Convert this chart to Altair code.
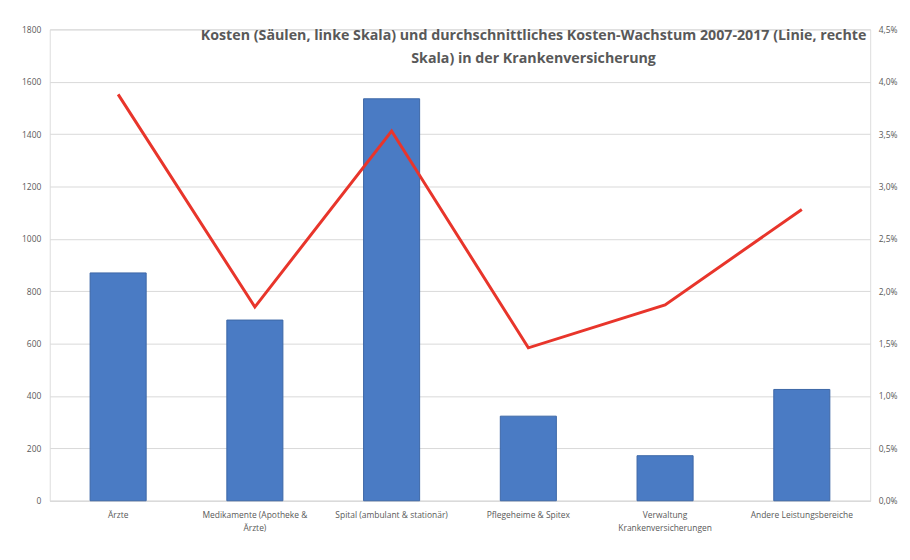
import altair as alt
import pandas as pd

categories = [
    "Ärzte",
    "Medikamente (Apotheke &|Ärzte)",
    "Spital (ambulant & stationär)",
    "Pflegeheime & Spitex",
    "Verwaltung|Krankenversicherungen",
    "Andere Leistungsbereiche",
]
kosten = [870, 690, 1535, 323, 172, 425]
wachstum = [0.0388, 0.0185, 0.0353, 0.0146, 0.0187, 0.0278]

title_lines = [
    "Kosten (Säulen, linke Skala) und durchschnittliches Kosten-Wachstum 2007-2017 (Linie, rechte",
    "Skala) in der Krankenversicherung",
]

df = pd.DataFrame({"Kategorie": categories, "Kosten": kosten, "Wachstum": wachstum})

FONT = "Open Sans"
GREY = "#595959"

x = alt.X(
    "Kategorie:N",
    sort=None,
    title=None,
    scale=alt.Scale(paddingInner=0.59, paddingOuter=0.295),
    axis=alt.Axis(
        labelAngle=0,
        labelExpr="split(datum.label, '|')",
        labelFontSize=8.5,
        labelColor=GREY,
        labelFont=FONT,
        labelPadding=10,
        labelLineHeight=13,
        ticks=False,
        domainColor="#d9d9d9",
        labelLimit=200,
    ),
)

bars = alt.Chart(df).mark_bar(color="#4a7bc4", stroke="#3c67a6", strokeWidth=1).encode(
    x=x,
    y=alt.Y(
        "Kosten:Q",
        title=None,
        scale=alt.Scale(domain=[0, 1800]),
        axis=alt.Axis(
            values=list(range(0, 1801, 200)),
            format="d",
            labelFontSize=8.5,
            labelColor=GREY,
            labelFont=FONT,
            labelPadding=9,
            ticks=False,
            domain=False,
            gridColor="#d9d9d9",
        ),
    ),
)

line = alt.Chart(df).mark_line(color="#e8352b", strokeWidth=3).encode(
    x=x,
    y=alt.Y(
        "Wachstum:Q",
        title=None,
        scale=alt.Scale(domain=[0, 0.045]),
        axis=alt.Axis(
            orient="right",
            values=[i * 0.005 for i in range(10)],
            labelExpr="replace(format(datum.value, '.1%'), '.', ',')",
            labelFontSize=8.5,
            labelColor=GREY,
            labelFont=FONT,
            labelPadding=8,
            ticks=False,
            domain=False,
            grid=False,
        ),
    ),
)

chart = (
    alt.layer(bars, line)
    .resolve_scale(y="independent")
    .properties(
        width=825,
        height=474,
        autosize=alt.AutoSizeParams(type="none"),
        padding={"left": 42, "top": 20, "right": 32, "bottom": 45},
        title=alt.TitleParams(
            text=title_lines,
            fontSize=14.3,
            fontWeight="bold",
            color=GREY,
            font=FONT,
            anchor="middle",
            dx=74,
            offset=-41,
            lineHeight=23,
        ),
    )
    .configure_view(stroke=None)
    .configure(background="white")
)

chart.save("out.html", embed_options={"renderer": "svg", "actions": False})
